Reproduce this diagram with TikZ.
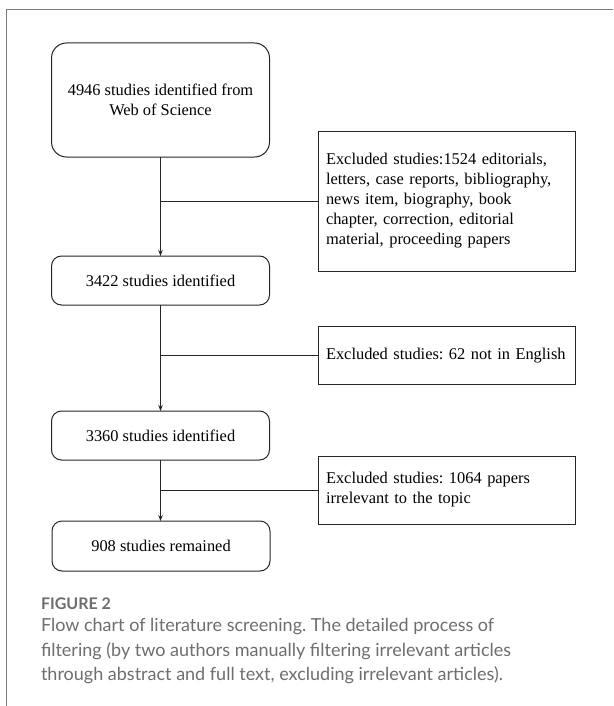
\documentclass[tikz,border=0pt]{standalone}
\usepackage{fontspec}
\setmainfont{Liberation Serif}
\newfontfamily\capfont{Lato}
\usetikzlibrary{arrows.meta,calc}
\definecolor{framegray}{HTML}{7A7A7A}
\definecolor{capgray}{HTML}{6E6E6E}
\definecolor{ink}{HTML}{262626}
\frenchspacing
\begin{document}
\begin{tikzpicture}[x=1pt,y=-1pt,
  every node/.style={inner sep=0pt,outer sep=0pt},
  roundbox/.style={draw=ink,line width=1pt,rounded corners=10pt,minimum width=218pt,align=center,font=\fontsize{16.4}{19.5}\selectfont},
  exbox/.style={draw=ink,line width=1pt,minimum width=257pt,text width=241pt,align=left,font=\fontsize{16.4}{20}\selectfont},
  link/.style={draw=ink,line width=0.9pt},
  flow/.style={link,-{Stealth[length=6pt,width=4.5pt]}},
  captext/.style={anchor=west,text=capgray}
]
\useasboundingbox (0,0) rectangle (613,706);
\fill[white] (0,0) rectangle (613,706);
% card frame
\draw[framegray,line width=0.9pt] (6,706) -- (6,9.5) -- (613,9.5);
% main column
\node[roundbox,rounded corners=15pt,minimum height=114pt] (b1) at (160.5,100) {4946 studies identified from\\Web of Science};
\node[roundbox,minimum height=49pt] (b2) at (160.5,280.5) {3422 studies identified};
\node[roundbox,minimum height=49pt] (b3) at (160.5,435.5) {3360 studies identified};
\node[roundbox,minimum height=50pt] (b4) at (161,546) {908 studies remained};
% exclusion boxes
\node[exbox,minimum height=140pt] (e1) at (446.5,201) {Excluded studies:1524 editorials,\\letters, case reports, bibliography,\\news item, biography, book\\chapter, correction, editorial\\material, proceeding papers};
\node[exbox,minimum height=58pt] (e2) at (446.5,355.5) {Excluded studies: 62 not in English};
\node[exbox,minimum height=68pt] (e3) at (446.5,490) {Excluded studies: 1064 papers\\irrelevant to the topic};
% arrows
\draw[flow] (b1.south) -- (b2.north);
\draw[flow] (b2.south) -- (b3.north);
\draw[flow] (b3.south) -- (b4.north -| b3.south);
% branches
\draw[link] (b1.south |- e1.west) -- (e1.west);
\draw[link] (b2.south |- e2.west) -- (e2.west);
\draw[link] (b3.south |- e3.west) -- (e3.west);
% caption
\node[captext,font={\capfont\bfseries\fontsize{16}{20}\selectfont}] (fig) at (41,604) {FIGURE 2};
\node[captext,font={\capfont\fontsize{18}{24}\selectfont}] (c1) at (41,627) {Flow chart of literature screening. The detailed process of};
\node[captext,font={\capfont\fontsize{18}{24}\selectfont}] (c2) at (41,651) {filtering (by two authors manually filtering irrelevant articles};
\node[captext,font={\capfont\fontsize{18}{24}\selectfont}] (c3) at (41,675) {through abstract and full text, excluding irrelevant articles).};
\end{tikzpicture}
\end{document}
